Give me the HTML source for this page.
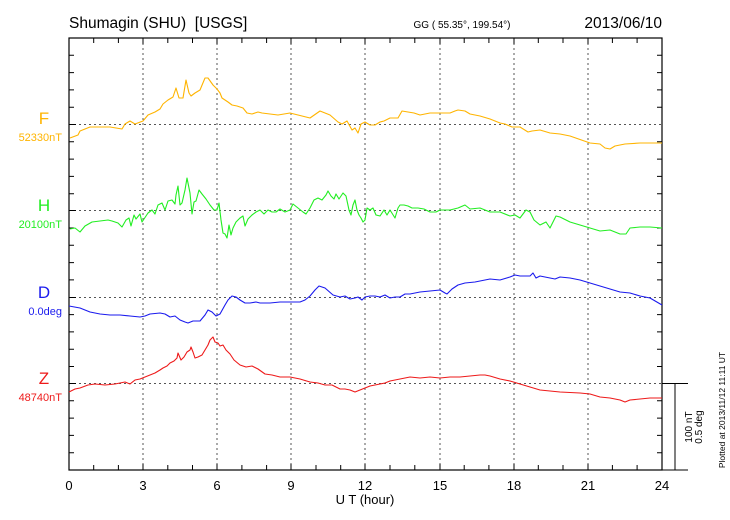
<!DOCTYPE html>
<html><head><meta charset="utf-8"><style>
body{margin:0;background:#fff;}
svg{display:block;font-family:"Liberation Sans",sans-serif;}
</style></head><body>
<svg width="730" height="520" viewBox="0 0 730 520">
<rect width="730" height="520" fill="#fff"/>
<text x="69" y="28" font-size="15.5">Shumagin (SHU)&#160;&#160;[USGS]</text>
<text x="462" y="28" font-size="10" text-anchor="middle">GG ( 55.35°, 199.54°)</text>
<text x="662" y="28" font-size="15.5" text-anchor="end">2013/06/10</text>
<g stroke="#555" stroke-width="1" stroke-dasharray="2,3" fill="none">
<line x1="143" y1="38" x2="143" y2="470"/><line x1="217" y1="38" x2="217" y2="470"/><line x1="291" y1="38" x2="291" y2="470"/><line x1="365" y1="38" x2="365" y2="470"/><line x1="440" y1="38" x2="440" y2="470"/><line x1="514" y1="38" x2="514" y2="470"/><line x1="588" y1="38" x2="588" y2="470"/>
<line x1="69" y1="124.5" x2="662" y2="124.5"/><line x1="69" y1="210.5" x2="662" y2="210.5"/><line x1="69" y1="297.5" x2="662" y2="297.5"/><line x1="69" y1="383.5" x2="662" y2="383.5"/>
</g>
<rect x="69" y="38" width="593" height="432" fill="none" stroke="#000" stroke-width="1.2"/>
<path stroke="#000" stroke-width="1" d="
M93.7 38v5M118.4 38v5M143 38v6M167.8 38v5M192.5 38v5M217 38v6M241.9 38v5M266.6 38v5M291 38v6M316 38v5M340.7 38v5M365 38v6M390 38v5M414.8 38v5M440 38v6M464.2 38v5M488.9 38v5M514 38v6M538.3 38v5M563 38v5M588 38v6M612.4 38v5M637.1 38v5
M93.7 470v-5M118.4 470v-5M143 470v-6M167.8 470v-5M192.5 470v-5M217 470v-6M241.9 470v-5M266.6 470v-5M291 470v-6M316 470v-5M340.7 470v-5M365 470v-6M390 470v-5M414.8 470v-5M440 470v-6M464.2 470v-5M488.9 470v-5M514 470v-6M538.3 470v-5M563 470v-5M588 470v-6M612.4 470v-5M637.1 470v-5
M69 55.3h5M69 72.6h5M69 89.9h5M69 107.2h5M69 141.8h5M69 159.1h5M69 176.4h5M69 193.7h5M69 228h5M69 245.3h5M69 262.6h5M69 279.9h5M69 314.6h5M69 331.9h5M69 349.2h5M69 366.5h5M69 400.8h5M69 418.1h5M69 435.4h5M69 452.7h5
M662 55.3h-5M662 72.6h-5M662 89.9h-5M662 107.2h-5M662 141.8h-5M662 159.1h-5M662 176.4h-5M662 193.7h-5M662 228h-5M662 245.3h-5M662 262.6h-5M662 279.9h-5M662 314.6h-5M662 331.9h-5M662 349.2h-5M662 366.5h-5M662 400.8h-5M662 418.1h-5M662 435.4h-5M662 452.7h-5
M69 124.5h7M69 210.5h7M69 297.5h7M69 383.5h7"/>
<g fill="none" stroke-width="1.1" stroke-linejoin="round">
<polyline stroke="#ffb400" points="70,138 78,135 80,131 90,127 110,127 122,129 125,124 130,121 135,124 143,121 148,115 155,112 160,109 163,104 168,100 173,97 176,88 179,98 183,98 186,80 189,93 191,96 195,93 200,90 205,78 208,78 213,85 217,89 220,93 222,98 228,102 232,105 237,106 243,108 247,113 252,114 258,112 262,113 270,114 278,115 290,113 298,115 310,118 320,111 330,115 338,122 342,124 347,121 352,130 355,128 358,133 361,124 365,122 370,125 375,125 380,122 384,121 390,118 398,118 402,111 408,112 414,113 420,115 430,113 440,113 450,113 455,111 458,110 465,111 470,114 480,116 490,119 500,123 505,124 512,127 520,127 528,132 532,131 540,130 550,133 560,134 570,136 590,143 600,144 605,148 610,149 615,146 625,144 640,143 655,143 662,143"/>
<polyline stroke="#22ee22" points="70,229 75,228 80,232 85,226 92,222 100,221 108,220 112,221 118,223 122,227 126,220 129,218 131,226 134,215 136,219 140,214 142,222 146,216 148,213 152,210 155,214 158,205 162,203 165,210 168,201 172,200 175,204 176,195 178,186 180,205 182,203 185,190 187,178 190,193 192,214 194,202 196,201 199,190 202,194 206,199 210,205 214,210 217,210 219,203 221,220 223,233 225,234 227,238 229,225 231,235 233,228 236,222 240,218 243,216 245,226 248,219 252,215 256,212 260,210 264,214 268,210 272,212 276,212 280,209 285,212 290,210 293,204 298,208 303,212 306,214 310,208 314,200 318,198 322,200 326,195 328,191 331,196 334,199 336,194 339,199 343,193 346,196 349,210 351,215 353,205 355,200 357,210 359,215 361,218 363,222 365,220 367,208 370,210 373,208 376,215 380,216 384,210 387,215 390,210 395,218 398,208 400,205 404,205 408,206 412,208 418,208 424,209 430,212 436,212 440,210 450,210 458,208 465,205 470,209 480,208 490,212 500,212 510,216 515,215 520,218 526,210 530,212 534,220 540,225 546,222 550,228 556,216 560,217 570,222 580,225 590,228 600,231 610,230 620,234 626,234 630,228 640,227 650,227 662,228"/>
<polyline stroke="#1a1aee" points="69,306 80,308 90,312 100,314 110,315 120,315 130,316 140,317 145,316 150,314 160,313 165,314 170,317 175,316 180,320 185,322 188,323 193,321 200,321 205,315 208,310 212,312 216,316 220,314 225,305 228,300 232,296 236,297 240,300 245,303 250,303 256,302 260,303 270,303 280,302 290,302 300,302 305,300 310,296 315,290 319,286 325,288 333,295 340,297 345,296 350,299 355,298 358,297 362,300 365,297 370,296 375,296 380,297 385,295 390,298 395,297 400,297 405,294 410,294 420,292 430,291 440,290 445,293 447,294 452,289 458,285 465,283 475,282 490,279 500,280 510,277 515,275 520,276 530,276 533,273 536,278 540,276 550,278 555,279 560,277 570,278 580,280 590,283 600,286 610,289 620,292 630,293 640,296 650,298 662,305"/>
<polyline stroke="#ee1a1a" points="69,392 75,389 80,388 88,385 95,384 105,385 115,384 120,383 125,382 130,384 135,380 140,379 145,377 150,375 155,373 160,370 163,368 167,366 170,363 174,361 177,358 178,353 181,360 184,357 187,352 190,350 191,347 193,352 195,358 198,357 202,355 205,350 208,345 210,340 213,337 215,342 218,343 220,346 223,345 226,350 230,354 234,360 240,365 246,367 252,366 258,369 265,374 272,375 280,377 290,377 300,379 310,382 318,383 325,385 332,385 340,389 345,389 350,390 355,392 360,390 365,388 370,386 375,385 380,384 385,383 390,381 395,380 400,379 410,377 420,378 430,377 440,378 450,377 460,377 470,376 480,375 485,375 490,376 500,379 510,381 520,384 530,387 540,390 550,391 560,392 580,393 590,394 600,397 610,398 620,400 625,402 630,400 640,399 650,398 662,398"/>
</g>
<g font-size="17" text-anchor="middle">
<text x="44" y="124" fill="#ffb400">F</text>
<text x="44" y="211" fill="#22ee22">H</text>
<text x="44" y="298" fill="#1a1aee">D</text>
<text x="44" y="384" fill="#ee1a1a">Z</text>
</g>
<g font-size="11" text-anchor="end">
<text x="62" y="141" fill="#ffb400">52330nT</text>
<text x="62" y="228" fill="#22ee22">20100nT</text>
<text x="62" y="315" fill="#1a1aee">0.0deg</text>
<text x="62" y="401" fill="#ee1a1a">48740nT</text>
</g>
<g font-size="13" text-anchor="middle">
<text x="69" y="490">0</text><text x="143" y="490">3</text><text x="217" y="490">6</text><text x="291" y="490">9</text><text x="365" y="490">12</text><text x="440" y="490">15</text><text x="514" y="490">18</text><text x="588" y="490">21</text><text x="662" y="490">24</text>
<text x="365" y="504">U T (hour)</text>
</g>
<path stroke="#000" stroke-width="1" d="M662 383.5h26M662 470h26M675 383.5V470" fill="none"/>
<g font-size="10" text-anchor="middle">
<text transform="translate(692,427) rotate(-90)">100 nT</text>
<text transform="translate(702,427) rotate(-90)">0.5 deg</text>
</g>
<text transform="translate(725,410) rotate(-90)" font-size="8.5" text-anchor="middle">Plotted at 2013/11/12 11:11 UT</text>
</svg>
</body></html>
